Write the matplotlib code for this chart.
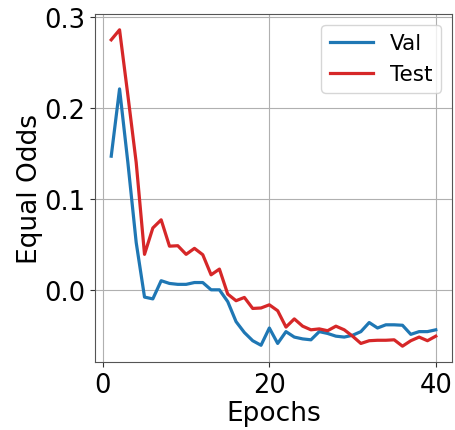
import matplotlib
matplotlib.use("Agg")
import matplotlib.pyplot as plt

epochs = list(range(1, 41))
val = [0.147, 0.221, 0.140, 0.052, -0.008, -0.010, 0.010, 0.007, 0.006, 0.006,
       0.008, 0.008, 0.000, 0.000, -0.013, -0.035, -0.047, -0.056, -0.061, -0.042,
       -0.059, -0.046, -0.052, -0.054, -0.055, -0.046, -0.048, -0.051, -0.052, -0.050,
       -0.046, -0.036, -0.042, -0.0385, -0.0385, -0.039, -0.049, -0.046, -0.046, -0.044]
test = [0.275, 0.286, 0.214, 0.140, 0.039, 0.068, 0.077, 0.048, 0.0485, 0.039,
        0.0456, 0.0386, 0.0165, 0.0228, -0.0047, -0.012, -0.0084, -0.0205, -0.020, -0.0165,
        -0.023, -0.041, -0.032, -0.040, -0.044, -0.043, -0.045, -0.040, -0.044, -0.051,
        -0.059, -0.056, -0.0555, -0.0555, -0.055, -0.062, -0.056, -0.052, -0.056, -0.051]

plt.rcParams['font.family'] = ['DejaVu Sans']
fig = plt.figure(figsize=(4.55, 4.31), dpi=100)
ax = fig.add_axes([0.2088, 0.1578, 0.7846, 0.8074])
ax.plot(epochs, val, color='#1f77b4', lw=2.3, label='Val')
ax.plot(epochs, test, color='#d62728', lw=2.3, label='Test')
ax.set_yticks([0.0, 0.1, 0.2, 0.3])
ax.set_xticks([0, 20, 40])
ax.grid(True, color='#b0b0b0', lw=0.8)
for s in ax.spines.values():
    s.set_color('#555555')
ax.tick_params(labelsize=18.5, color='#333333')
ax.set_xlabel('Epochs', fontsize=19, labelpad=2)
ax.set_ylabel('Equal Odds', fontsize=19, labelpad=1)
ax.legend(loc='upper right', fontsize=15.5)
fig.savefig('out.png', dpi=100)
